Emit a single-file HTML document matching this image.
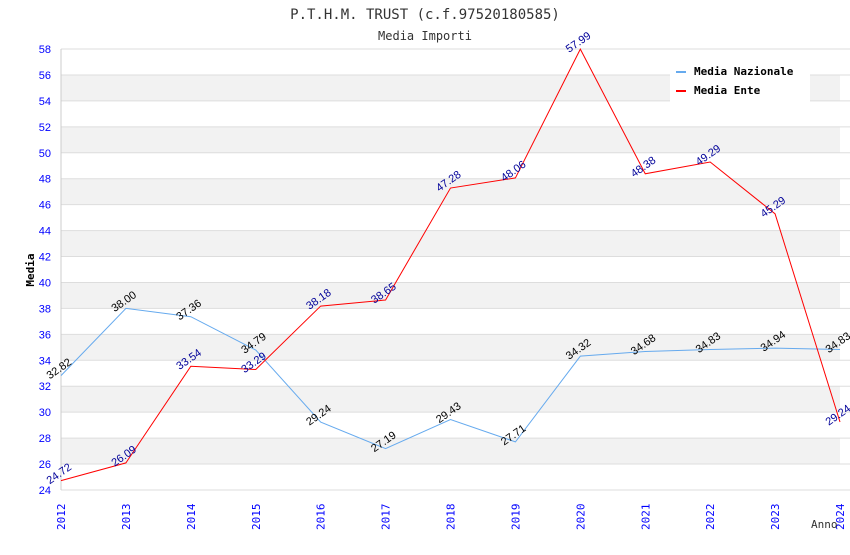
<!DOCTYPE html>
<html><head><meta charset="utf-8"><style>
body{margin:0;background:#fff;}
svg text{font-family:"DejaVu Sans Mono","Liberation Mono",monospace;}
svg text.sans{font-family:"Liberation Sans","DejaVu Sans",sans-serif;}
</style></head><body>
<svg id="chart" width="850" height="550" xmlns="http://www.w3.org/2000/svg">
<text x="425" y="19" text-anchor="middle" font-size="14" fill="#333">P.T.H.M. TRUST (c.f.97520180585)</text>
<text x="425" y="40" text-anchor="middle" font-size="12" fill="#333">Media Importi</text>
<g id="grid"></g>
<g id="series"></g>
<text transform="translate(34,270) rotate(-90)" text-anchor="middle" font-size="11" font-weight="bold" fill="#000">Media</text>
<text x="811" y="528" font-size="11" fill="#333">Anno</text>
<g>
<rect x="670" y="60" width="140" height="42" fill="#fff"/>
<rect x="676" y="71" width="10" height="2" fill="#66aaee"/>
<text x="694" y="75" font-size="11" font-weight="bold" fill="#000">Media Nazionale</text>
<rect x="676" y="90" width="10" height="2" fill="#ff0000"/>
<text x="694" y="94" font-size="11" font-weight="bold" fill="#000">Media Ente</text>
</g>
</svg>
<script>
const years=[2012,2013,2014,2015,2016,2017,2018,2019,2020,2021,2022,2023,2024];
const nazionale=[32.82,38.00,37.36,34.79,29.24,27.19,29.43,27.71,34.32,34.68,34.83,34.94,34.83];
const ente=[24.72,26.09,33.54,33.29,38.18,38.65,47.28,48.06,57.99,48.38,49.29,45.29,29.24];
const yTicks=[24,26,28,30,32,34,36,38,40,42,44,46,48,50,52,54,56,58];
const NS="http://www.w3.org/2000/svg";
const L=61,R=840,T=49,B=490,yMin=24,yMax=58;
const xs=i=>L+(R-L)*i/(years.length-1);
const ys=v=>B-(v-yMin)/(yMax-yMin)*(B-T);
function mk(tag,attrs,parent){const e=document.createElementNS(NS,tag);for(const k in attrs)e.setAttribute(k,attrs[k]);parent.appendChild(e);return e;}
const grid=document.getElementById('grid'),ser=document.getElementById('series');
for(let i=0;i<yTicks.length-1;i++){
  if(yTicks[i]%4===2){const r=mk('rect',{x:L,y:ys(yTicks[i+1]),width:R-L,height:ys(yTicks[i])-ys(yTicks[i+1]),fill:'#f2f2f2'},grid);
  
  }
}
yTicks.forEach(t=>{
  const l=mk('line',{x1:L,x2:R+10,y1:ys(t),y2:ys(t),stroke:'#ddd','stroke-width':1},grid);
  
  
  const tx=mk('text',{x:51,y:ys(t)+4,'text-anchor':'end','font-size':11,fill:'#0000ff',class:'sans'},grid);
  tx.textContent=t;
  
  
});
const ax=mk('line',{x1:L,x2:L,y1:T,y2:B,stroke:'#ccc'},grid);


years.forEach((y,i)=>{
  const tx=mk('text',{transform:`translate(${xs(i)+4},${530}) rotate(-90)`,'font-size':11,fill:'#0000ff'},grid);
  tx.textContent=y;
  
  
});
function drawSeries(vals,color,labColor,name){
  const p=mk('polyline',{points:vals.map((v,i)=>xs(i)+','+ys(v)).join(' '),fill:'none',stroke:color,'stroke-width':1},ser);
  
  
  vals.forEach((v,i)=>{
    const t=mk('text',{transform:`translate(${xs(i)},${ys(v)-4}) rotate(-35)`,'text-anchor':'middle','font-size':11,fill:labColor,class:'sans'},ser);
    t.textContent=v.toFixed(2);
    
    
  });
}
drawSeries(nazionale,'#66aaee','#000','nazionale');
drawSeries(ente,'#ff0000','#000099','ente');
</script>
</body></html>
